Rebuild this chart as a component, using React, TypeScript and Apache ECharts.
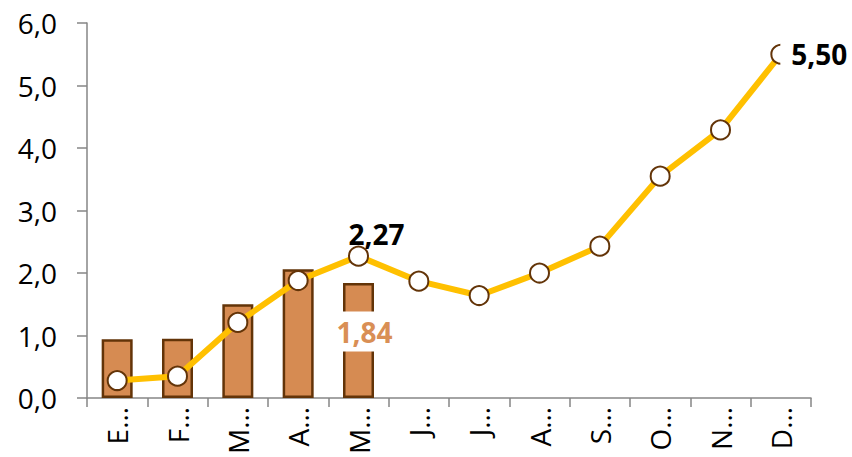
import React, { useEffect, useRef } from "react";
import * as echarts from "echarts";

const months = ["Enero", "Febrero", "Marzo", "Abril", "Mayo", "Junio", "Julio", "Agosto", "Septiembre", "Octubre", "Noviembre", "Diciembre"];
const barValues: (number | null)[] = [0.94, 0.95, 1.5, 2.06, 1.84, null, null, null, null, null, null, null];
const lineValues = [0.28, 0.35, 1.21, 1.88, 2.27, 1.87, 1.64, 2.0, 2.43, 3.55, 4.29, 5.5];
const yTicks = { min: 0, max: 6, interval: 1 };

const FONT = "Open Sans";
const fmt = (v: number, d: number) => v.toFixed(d).replace(".", ",");

export default function App() {
  const ref = useRef<HTMLDivElement>(null);
  useEffect(() => {
    const chart = echarts.init(ref.current!, null, { renderer: "svg" });
    const lineData = lineValues.map((v, i) => {
      if (i === 4) {
        return {
          value: v,
          label: {
            show: true,
            position: "top",
            distance: 0,
            offset: [18, 2],
            formatter: () => fmt(v, 2),
            fontFamily: FONT,
            fontWeight: "bold",
            fontSize: 28,
            color: "#000",
          },
        };
      }
      if (i === lineValues.length - 1) {
        return {
          value: v,
          label: {
            show: true,
            position: "right",
            distance: 0,
            offset: [-11, 0],
            formatter: () => fmt(v, 2),
            fontFamily: FONT,
            fontWeight: "bold",
            fontSize: 28,
            color: "#000",
            backgroundColor: "#fff",
            padding: [2, 2, 2, 11],
          },
        };
      }
      return v;
    });
    const barData = barValues.map((v, i) => {
      if (i === 4 && v != null) {
        return {
          value: v,
          label: {
            show: true,
            position: "inside",
            offset: [6, -9],
            formatter: () => fmt(v, 2),
            fontFamily: FONT,
            fontWeight: "bold",
            fontSize: 28,
            color: "#D98F55",
            backgroundColor: "#fff",
            padding: [6, 2, 6, 2],
          },
        };
      }
      return v;
    });
    chart.setOption({
      animation: false,
      grid: { left: 87, right: 41, top: 23, bottom: 57, containLabel: false },
      xAxis: {
        type: "category",
        data: months,
        boundaryGap: true,
        axisLine: { show: true, lineStyle: { color: "#868686", width: 1.5 } },
        axisTick: { show: true, length: 9, inside: false, alignWithLabel: false, lineStyle: { color: "#868686", width: 1.5 } },
        axisLabel: {
          rotate: 90,
          margin: 9,
          interval: 0,
          fontFamily: FONT,
          fontSize: 28,
          color: "#000",
          formatter: (name: string) => name.charAt(0) + "…",
        },
        splitLine: { show: false },
      },
      yAxis: {
        type: "value",
        min: yTicks.min,
        max: yTicks.max,
        interval: yTicks.interval,
        axisLine: { show: true, lineStyle: { color: "#868686", width: 1.5 } },
        axisTick: { show: true, length: 10, lineStyle: { color: "#868686", width: 1.5 } },
        axisLabel: {
          margin: 30,
          fontFamily: FONT,
          fontSize: 28,
          color: "#000",
          formatter: (v: number) => fmt(v, 1),
        },
        splitLine: { show: false },
      },
      series: [
        {
          type: "bar",
          data: barData,
          barWidth: 31,
          itemStyle: { color: "#D68B52", borderColor: "#633408", borderWidth: 2.5 },
          z: 2,
        },
        {
          type: "line",
          data: lineData,
          symbol: "circle",
          symbolSize: 19,
          lineStyle: { color: "#FFC000", width: 6 },
          itemStyle: { color: "#fff", borderColor: "#633408", borderWidth: 2 },
          z: 3,
        },
      ],
    });
    return () => chart.dispose();
  }, []);
  return <div ref={ref} style={{ width: 852, height: 457, position: "absolute", left: 0, top: 0 }} />;
}
